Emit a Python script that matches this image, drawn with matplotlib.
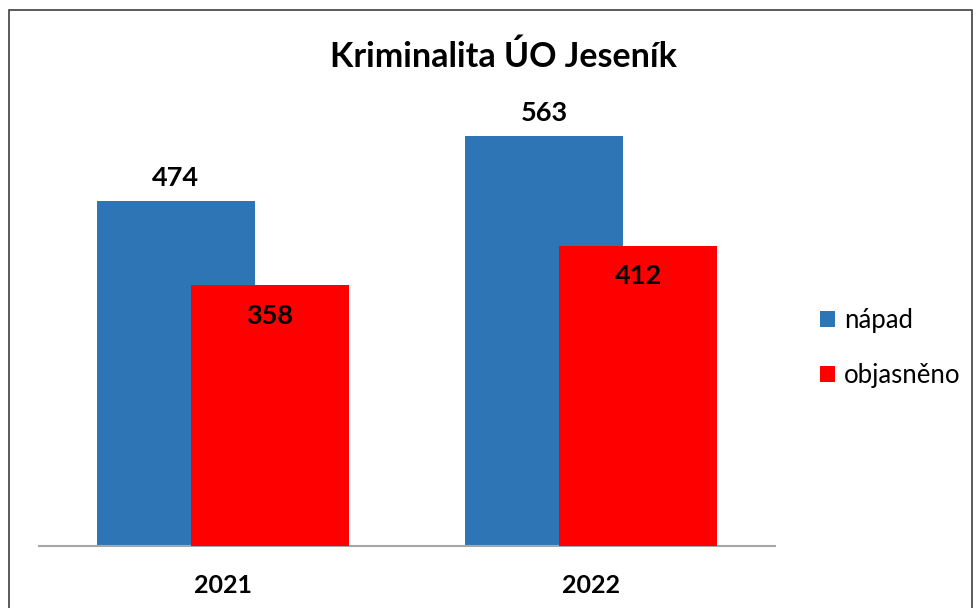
import matplotlib
matplotlib.use("Agg")
import matplotlib.pyplot as plt
from matplotlib.patches import Rectangle
import numpy as np

categories = ["2021", "2022"]
napad = [474, 563]
objasneno = [358, 412]
series_names = ["nápad", "objasněno"]
colors = ["#2E75B6", "#FF0000"]

plt.rcParams['font.family'] = ['Lato', 'DejaVu Sans']

fig = plt.figure(figsize=(9.8, 6.08), dpi=100)
ax = fig.add_axes([39/980, 62/608, 736/980, 437/608])

x = np.arange(len(categories))
w = 0.43
off = 0.128
b1 = ax.bar(x - off, napad, w, color=colors[0], label=series_names[0], zorder=2)
b2 = ax.bar(x + off, objasneno, w, color=colors[1], label=series_names[1], zorder=3)

ax.set_xlim(-0.5, 1.5)
ax.set_ylim(0, 600)
for s in ["top", "right", "left"]:
    ax.spines[s].set_visible(False)
ax.spines["bottom"].set_color("#A6A6A6")
ax.spines["bottom"].set_linewidth(1.5)
ax.set_yticks([])
ax.set_xticks(x)
ax.set_xticklabels(categories, fontsize=18, fontweight="bold")
ax.tick_params(axis="x", length=0, pad=20)

for xi, v in zip(x - off, napad):
    ax.annotate(str(v), (xi, v), xytext=(0, 8), textcoords="offset points",
                ha="center", va="bottom", fontsize=19.5, fontweight="bold", zorder=5)
for xi, v in zip(x + off, objasneno):
    ax.annotate(str(v), (xi, v), xytext=(0, -22), textcoords="offset points",
                ha="center", va="center", fontsize=19.5, fontweight="bold", zorder=5)

fig.text(503/980, 1 - 57/608, "Kriminalita ÚO Jeseník", ha="center", va="center",
         fontsize=24.5, fontweight="bold")

leg = fig.legend(handles=[b1, b2], labels=series_names, loc="center left",
                 bbox_to_anchor=(797/980, 1 - 348/608), frameon=False,
                 fontsize=18.5, handlelength=0.57, handleheight=0.57,
                 handletextpad=0.35, labelspacing=1.15)

fig.patches.append(Rectangle((9/980, -0.05), 963/980, 1.05 - 10/608,
                             transform=fig.transFigure, fill=False,
                             edgecolor="#404040", linewidth=1.2))

fig.savefig("out.png", dpi=100)
